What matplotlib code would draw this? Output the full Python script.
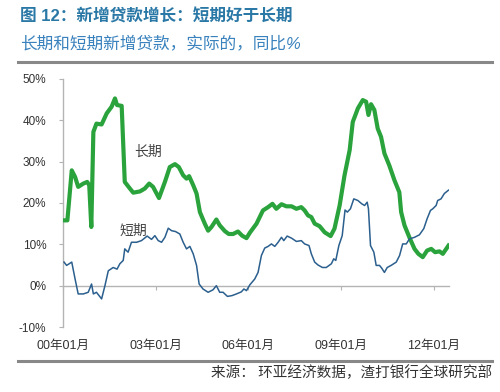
import matplotlib
matplotlib.use('Agg')
from matplotlib import pyplot as plt
from matplotlib.lines import Line2D

# months since 2000-01
long_months = [0, 1.7, 3.4, 4.7, 5.9, 7.9, 9.4, 10.2, 11, 11.8, 13, 15, 17, 18.9, 20.2, 21,
               22.8, 24, 26, 27.3, 29.9, 31.8, 33.5, 35, 37.3, 39.6, 41.5, 43.5, 45, 46.7,
               48, 49, 50.6, 51.9, 53.2, 55.1, 56.4, 57.7, 59.6, 60.9, 62.9, 64.4, 66.1, 68,
               69.6, 71.3, 72.6, 75.2, 77.7, 79.7, 81.4, 82.9, 84.9, 86.8, 88.8, 90.7, 92.6,
               93.9, 95.2, 96.5, 97.8, 99.7, 101.7, 104, 105.5, 107.5, 109.4, 111.4, 112.6,
               114.6, 116.5, 117.8, 118.7, 119.7, 121, 122.3, 123.6, 124.9, 126.8, 128.8,
               130.7, 131.4, 132.7, 134.6, 136.6, 138.1, 139.8, 141.5, 143.1, 144.6, 146.3,
               147.6, 149.8]
long_term = [15.8, 15.8, 27.9, 26.3, 23.9, 24.7, 25.1, 24.3, 14.2, 37.2, 39.2, 39.0, 41.7,
             43.3, 45.3, 43.7, 43.5, 25.1, 23.5, 22.5, 22.8, 23.5, 24.7, 23.9, 21.2, 25.1,
             28.7, 29.4, 28.7, 26.7, 25.9, 26.5, 24.3, 22.3, 17.8, 15.0, 13.3, 14.2, 16.0,
             14.6, 13.2, 12.5, 12.5, 13.1, 12.1, 11.5, 12.8, 15.0, 18.2, 19.0, 19.8, 18.6,
             19.7, 19.2, 19.2, 18.6, 19.0, 18.2, 17.0, 16.6, 15.0, 14.4, 12.9, 12.0, 13.8,
             19.4, 26.7, 32.8, 39.6, 42.9, 44.9, 44.5, 41.3, 43.9, 42.5, 38.0, 36.0, 32.0,
             29.1, 25.5, 22.6, 17.8, 14.6, 11.7, 8.9, 7.7, 6.9, 8.5, 8.9, 8.1, 8.3, 7.7, 9.7]

short_months = [0.4, 1.4, 3.4, 4.7, 5.9, 7.9, 9.8, 11.1, 11.8, 13, 15, 16.3, 17.6, 19.5, 21,
                22.1, 23.4, 24, 25.3, 26.6, 28.6, 30.5, 32.7, 34.4, 35.7, 37, 38.3, 39.6,
                40.9, 42.2, 43.7, 45.4, 46.7, 48, 49.3, 50.6, 51.9, 52.9, 54.4, 56.4, 58.3,
                59.6, 60.9, 62.2, 63.9, 65.7, 67.4, 69.3, 70.3, 71.3, 72.6, 74.5, 75.8, 77.1,
                78.4, 79.7, 81, 82.3, 83.6, 84.9, 85.8, 87.1, 88.8, 90.7, 92.6, 93.9, 95.6,
                96.5, 97.8, 99.1, 100.8, 102.3, 104.3, 105.2, 106, 107.2, 108.5, 109.6, 110.5,
                111.7, 113, 114.6, 116.1, 117.2, 118.2, 118.7, 119.5, 120.8, 121.7, 123,
                123.9, 124.9, 126, 127.5, 129.5, 130.8, 132, 133.4, 134.6, 136.6, 138.5,
                140.2, 141.5, 142.8, 143.7, 145, 145.6, 146.9, 148.2, 149.8]
short_term = [5.7, 4.9, 5.7, 1.6, -2.0, -2.0, -1.6, 0.4, -2.0, -1.6, -3.2, 0.0, 3.6, 4.4,
              4.0, 5.3, 6.1, 8.9, 8.1, 10.5, 10.5, 10.9, 12.0, 11.2, 12.1, 10.9, 10.5, 11.7,
              13.9, 13.3, 13.1, 12.5, 10.5, 8.9, 9.5, 7.7, 4.9, 0.4, -0.8, -1.6, -1.0, 0.0,
              -1.6, -1.6, -2.6, -2.4, -2.0, -1.5, -0.8, -1.2, 0.2, 1.6, 3.2, 7.3, 9.1, 9.5,
              10.1, 9.5, 10.5, 11.7, 10.9, 12.0, 11.5, 10.7, 10.9, 10.1, 9.7, 7.7, 5.7, 5.0,
              4.4, 4.4, 5.3, 6.5, 6.1, 9.7, 12.1, 18.3, 17.8, 18.6, 21.0, 20.6, 19.8, 19.4,
              20.2, 18.6, 9.7, 8.1, 4.9, 4.9, 4.2, 3.2, 4.4, 4.9, 5.7, 7.3, 10.1, 10.1, 11.3,
              11.7, 12.3, 13.8, 16.2, 18.2, 18.6, 19.4, 20.6, 21.0, 22.3, 23.1]

x_ticks = [0, 36, 72, 108, 144]
x_labels = ['00年01月', '03年01月', '06年01月', '09年01月', '12年01月']
y_ticks = [-10, 0, 10, 20, 30, 40, 50]

FONT = ['Liberation Sans', 'Noto Sans CJK SC', 'DejaVu Sans']
CJK = ['Noto Sans CJK SC', 'DejaVu Sans']
AXIS_GRAY = '#b4b4b4'
TEXT_GRAY = '#333333'

fig = plt.figure(figsize=(5.0, 3.92), dpi=100)
W, H = 500.0, 392.0
# axes box: x 63..449 px, y 79..327 px
ax = fig.add_axes([63 / W, 1 - 327 / H, (449 - 63) / W, (327 - 79) / H])

ax.plot(long_months, long_term, color='#2aa33c', lw=3.0, solid_joinstyle='round', zorder=3)
ax.plot(short_months, short_term, color='#2b5f8e', lw=1.1, zorder=4)

ax.set_xlim(0, 150)
ax.set_ylim(-10, 50)

for s in ['top', 'right']:
    ax.spines[s].set_visible(False)
ax.spines['left'].set_color(AXIS_GRAY)
ax.spines['left'].set_linewidth(1.0)
ax.spines['bottom'].set_position(('data', 0))
ax.spines['bottom'].set_color(AXIS_GRAY)
ax.spines['bottom'].set_linewidth(1.0)

ax.set_yticks(y_ticks)
ax.set_yticklabels([f'{v}%' for v in y_ticks], fontsize=8.5, color=TEXT_GRAY, family=FONT)
ax.tick_params(axis='y', direction='out', length=3, color=AXIS_GRAY, pad=9)

ax.set_xticks(x_ticks)
ax.set_xticklabels([])
ax.tick_params(axis='x', direction='out', length=3, color=AXIS_GRAY)
for t, lab in zip(x_ticks, x_labels):
    ax.text(t, -0.078, lab, transform=ax.get_xaxis_transform(), ha='center', va='center',
            fontsize=9, color=TEXT_GRAY, family=FONT)

ax.text(33, 32.5, '长期', fontsize=10, color='#444444', family=CJK, ha='center', va='center')
ax.text(27.5, 13.2, '短期', fontsize=10, color='#444444', family=CJK, ha='center', va='center')

# header and footer
fig.text(20 / W, 1 - 16 / H, '图 12：新增贷款增长：短期好于长期', fontsize=12, fontweight='bold',
         color='#2a78a6', family=FONT, ha='left', va='center')
fig.text(20 / W, 1 - 43 / H, '长期和短期新增贷款，实际的，同比%', fontsize=12, style='italic',
         color='#3a82bd', family=FONT, ha='left', va='center')
fig.add_artist(Line2D([18 / W, 492 / W], [1 - 62 / H, 1 - 62 / H], color='#888888', lw=2.2))
fig.add_artist(Line2D([18 / W, 492 / W], [1 - 361 / H, 1 - 361 / H], color='#888888', lw=2.2))
fig.text(492 / W, 1 - 373 / H, '来源： 环亚经济数据，渣打银行全球研究部', fontsize=10.5,
         color=TEXT_GRAY, family=CJK, ha='right', va='center')

fig.savefig('out.png', dpi=100)
